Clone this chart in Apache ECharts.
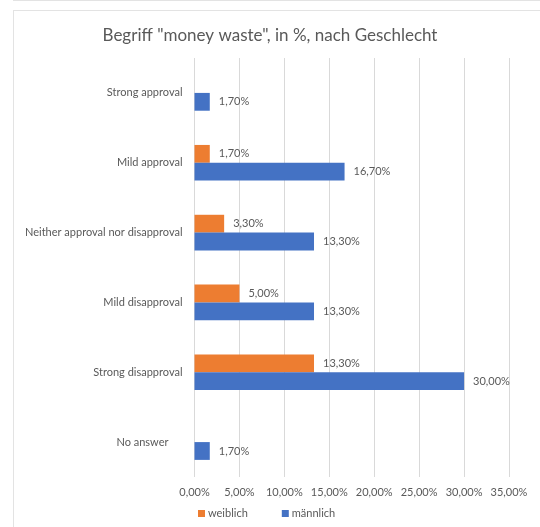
<!DOCTYPE html>
<html>
<head>
<meta charset="utf-8">
<script src="https://cdn.jsdelivr.net/npm/echarts@6/dist/echarts.min.js"></script>
<style>
  html, body { margin: 0; padding: 0; background: #fff; }
  #topline { position: absolute; left: 13px; top: 0; width: 527px; height: 1px; background: #e3e3e3; }
  #box { position: absolute; left: 13px; top: 10px; width: 540px; height: 530px; border: 1px solid #e3e3e3; }
  #chart { position: absolute; left: 0; top: 0; width: 540px; height: 527px; }
</style>
</head>
<body>
<div id="topline"></div>
<div id="box"></div>
<div id="chart"></div>
<script>
// Kategorien (von oben nach unten)
const categories = ['Strong approval', 'Mild approval', 'Neither approval nor disapproval', 'Mild disapproval', 'Strong disapproval', 'No answer']
// Werte in %
const weiblich = [null, 1.7, 3.3, 5.0, 13.3, null]
const maennlich = [1.7, 16.7, 13.3, 13.3, 30.0, 1.7]
const xTicks = [0, 5, 10, 15, 20, 25, 30, 35]

const fmt = v => v.toFixed(2).replace('.', ',') + '%'
const font = 'Lato, "Open Sans", sans-serif'

let myChart = echarts.init(document.querySelector('#chart'))
let option = {
  animation: false,
  title: {
    text: 'Begriff "money waste", in %, nach Geschlecht',
    left: 'center',
    top: 22,
    textStyle: {
      fontSize: 17,
      fontWeight: 'normal',
      color: '#595959',
      fontFamily: font
    }
  },
  legend: {
    bottom: 3,
    left: 193,
    itemWidth: 7,
    itemHeight: 7,
    itemGap: 34,
    icon: 'rect',
    textStyle: { fontSize: 11, color: '#595959', fontFamily: font, padding: [0, 0, 0, -2] },
    data: ['weiblich', 'männlich']
  },
  grid: {
    left: 194.5,
    right: 31,
    top: 58,
    bottom: 50
  },
  xAxis: {
    type: 'value',
    min: xTicks[0],
    max: xTicks[xTicks.length - 1],
    interval: 5,
    axisLabel: {
      formatter: v => fmt(v),
      fontSize: 11,
      color: '#595959',
      fontFamily: font,
      margin: 10
    },
    axisLine: { show: false },
    axisTick: { show: false },
    splitLine: { lineStyle: { color: '#d9d9d9', width: 1 } }
  },
  yAxis: {
    type: 'category',
    inverse: true,
    data: categories,
    axisLine: { show: false },
    axisTick: { show: false },
    axisLabel: {
      fontSize: 11,
      color: '#595959',
      fontFamily: font,
      margin: 12,
      formatter: v => v === 'No answer' ? '{pad|' + v + '}' : v,
      rich: {
        pad: { fontSize: 11, color: '#595959', fontFamily: font, padding: [0, 14, 0, 0] }
      }
    }
  },
  series: [
    {
      name: 'weiblich',
      type: 'bar',
      data: weiblich,
      barGap: '0%',
      barCategoryGap: '49%',
      itemStyle: { color: '#ED7D31' },
      label: {
        show: true,
        position: 'right',
        distance: 9,
        formatter: p => fmt(p.value),
        fontSize: 11,
        color: '#595959',
        fontFamily: font
      }
    },
    {
      name: 'männlich',
      type: 'bar',
      data: maennlich,
      barGap: '0%',
      barCategoryGap: '49%',
      itemStyle: { color: '#4472C4' },
      label: {
        show: true,
        position: 'right',
        distance: 9,
        formatter: p => fmt(p.value),
        fontSize: 11,
        color: '#595959',
        fontFamily: font
      }
    }
  ]
}
myChart.setOption(option)
</script>
</body>
</html>
